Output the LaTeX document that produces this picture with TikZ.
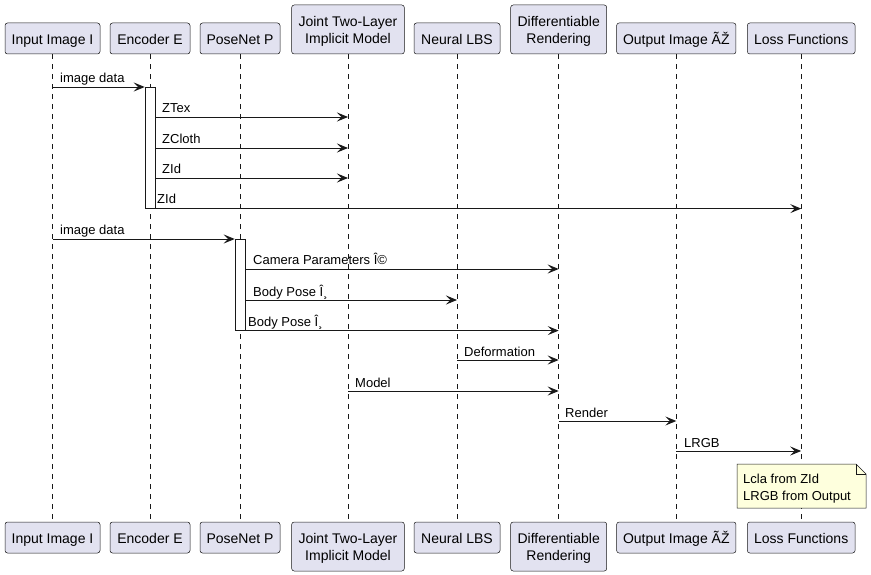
\documentclass[tikz,border=0pt]{standalone}
\usepackage{fontspec}
\setmainfont{Liberation Sans}
\usetikzlibrary{arrows.meta}
\definecolor{partfill}{HTML}{E2E2F0}
\definecolor{ink}{HTML}{181818}
\definecolor{notefill}{HTML}{FEFFDD}
\newcommand{\mytopstrut}{\rule{0pt}{14.5pt}}
\tikzset{
  part/.style={draw=ink, fill=partfill, rounded corners=2.5pt, line width=0.5pt,
    inner sep=0pt, align=center, font=\fontsize{14}{17}\selectfont, text=black},
  one/.style={minimum height=31pt, execute at begin node={\rule[-3pt]{0pt}{18pt}}},
  two/.style={minimum height=49pt},
  lifeline/.style={draw=ink, line width=0.5pt, dash pattern=on 5pt off 5pt},
  msg/.style={draw=ink, line width=0.9pt, -{Stealth[length=11pt,width=9pt,inset=4.5pt]}},
  lbl/.style={anchor=base west, inner sep=0pt, font=\fontsize{13}{15}\selectfont, text=black},
  actbar/.style={draw=ink, fill=white, line width=0.6pt}
}
\begin{document}
\begin{tikzpicture}[x=1pt,y=-1pt]
\useasboundingbox[fill=white] (0,0) rectangle (871,575);
% top participants
\node[part,one,minimum width=95pt]  (t1) at (52.5,38.5) {Input Image I};
\node[part,one,minimum width=80pt]  (t2) at (150,38.5) {Encoder E};
\node[part,one,minimum width=80pt]  (t3) at (240,38.5) {PoseNet P};
\node[part,two,minimum width=112.6pt] (t4) at (348,29.5) {\mytopstrut Joint Two-Layer\\Implicit Model};
\node[part,one,minimum width=86pt]  (t5) at (457,38.5) {Neural LBS};
\node[part,two,minimum width=96pt]  (t6) at (558.7,29.5) {\mytopstrut Differentiable\\Rendering};
\node[part,one,minimum width=119.3pt] (t7) at (676.3,38.5) {Output Image ÃŽ};
\node[part,one,minimum width=107.7pt] (t8) at (801.2,38.5) {Loss Functions};
% bottom participants
\node[part,one,minimum width=95pt]  (b1) at (52.5,537.5) {Input Image I};
\node[part,one,minimum width=80pt]  (b2) at (150,537.5) {Encoder E};
\node[part,one,minimum width=80pt]  (b3) at (240,537.5) {PoseNet P};
\node[part,two,minimum width=112.6pt] (b4) at (348,546.5) {\mytopstrut Joint Two-Layer\\Implicit Model};
\node[part,one,minimum width=86pt]  (b5) at (457,537.5) {Neural LBS};
\node[part,two,minimum width=96pt]  (b6) at (558.7,546.5) {\mytopstrut Differentiable\\Rendering};
\node[part,one,minimum width=119.3pt] (b7) at (676.3,537.5) {Output Image ÃŽ};
\node[part,one,minimum width=107.7pt] (b8) at (801.2,537.5) {Loss Functions};
% lifelines
\foreach \i in {1,...,8} { \draw[lifeline] (t\i.south) -- (b\i.north); }
% activation bars
\node[actbar, minimum width=10pt, minimum height=121pt, inner sep=0pt, anchor=north] (act1) at (150,87) {};
\node[actbar, minimum width=10pt, minimum height=91pt, inner sep=0pt, anchor=north] (act2) at (240,239) {};
% messages
\draw[msg] (t1 |- 0,87) -- (act1.west |- 0,87);
\node[lbl] (m1) at (60,83) {image data};
\draw[msg] (act1.east |- 0,117) -- (t4 |- 0,117);
\node[lbl] (m2) at (162,113) {ZTex};
\draw[msg] (act1.east |- 0,148) -- (t4 |- 0,148);
\node[lbl] (m3) at (162,144) {ZCloth};
\draw[msg] (act1.east |- 0,178) -- (t4 |- 0,178);
\node[lbl] (m4) at (162,174) {ZId};
\draw[msg] (act1.south east) -- (t8 |- act1.south);
\node[lbl] (m5) at (157,204) {ZId};
\draw[msg] (t1 |- 0,239) -- (act2.west |- 0,239);
\node[lbl] (m6) at (60,235) {image data};
\draw[msg] (act2.east |- 0,269) -- (t6 |- 0,269);
\node[lbl] (m7) at (253,265) {Camera Parameters Î©};
\draw[msg] (act2.east |- 0,300) -- (t5 |- 0,300);
\node[lbl] (m8) at (253,296) {Body Pose Î¸};
\draw[msg] (act2.south east) -- (t6 |- act2.south);
\node[lbl] (m9) at (248,326) {Body Pose Î¸};
\draw[msg] (t5 |- 0,360) -- (t6 |- 0,360);
\node[lbl] (m10) at (464,356) {Deformation};
\draw[msg] (t4 |- 0,391) -- (t6 |- 0,391);
\node[lbl] (m11) at (355,387) {Model};
\draw[msg] (t6 |- 0,421) -- (t7 |- 0,421);
\node[lbl] (m12) at (565,417) {Render};
\draw[msg] (t7 |- 0,451) -- (t8 |- 0,451);
\node[lbl] (m13) at (684,447) {LRGB};
% note
\draw[draw=ink, fill=notefill, line width=0.5pt] (737,464) -- (856,464) -- (866,474) -- (866,508) -- (737,508) -- cycle;
\draw[draw=ink, line width=0.5pt] (856,464) -- (856,474) -- (866,474);
\node[lbl] (n1) at (743,483) {Lcla from ZId};
\node[lbl] (n2) at (743,500) {LRGB from Output};
\end{tikzpicture}
\end{document}
